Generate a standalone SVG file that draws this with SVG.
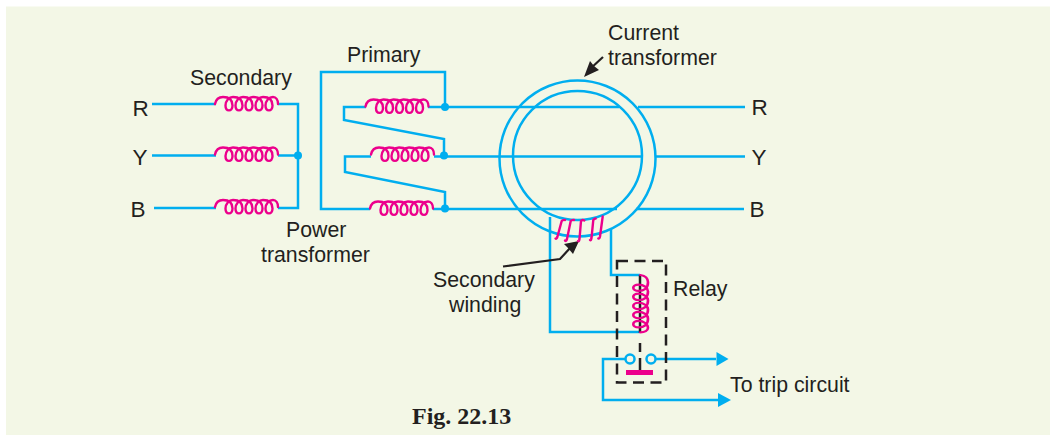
<svg xmlns="http://www.w3.org/2000/svg" width="1050" height="435" viewBox="0 0 1050 435">
<style>
.w{fill:none;stroke:#00AEEF;stroke-width:2.5}
.c{fill:none;stroke:#EC008C;stroke-width:2.4;stroke-linecap:round}
.d{fill:#00AEEF}
.t{font-family:"Liberation Sans",Arial,sans-serif;font-size:21.3px;fill:#231F20}
.l{font-family:"Liberation Sans",Arial,sans-serif;font-size:22.500px;fill:#231F20}
.f{font-family:"Liberation Serif","Times New Roman",serif;font-size:24px;font-weight:bold;fill:#231F20}
.k{fill:none;stroke:#231F20;stroke-width:2.200}
.h{fill:#231F20}
.a{fill:#00AEEF}
</style>
<defs>
<path id="coil" d="M0,7 C1,2 4,0 8,0 C15,0 17.500,4 17.500,8.500 C17.500,15 10.500,15 10.500,8.500 C10.500,4 14,0 18,0 C25,0 27.500,4 27.500,8.500 C27.500,15 20.500,15 20.500,8.500 C20.500,4 24,0 28,0 C35,0 37.500,4 37.500,8.500 C37.500,15 30.500,15 30.500,8.500 C30.500,4 34,0 38,0 C45,0 47.500,4 47.500,8.500 C47.500,15 40.500,15 40.500,8.500 C40.500,4 44,0 48,0 C55,0 57.500,4 57.500,8.500 C57.500,15 50.500,15 50.500,8.500 C50.500,4 54,0 58,0 C61,0 63,3 63,7"/>
</defs>
<rect x="6" y="6.500" width="1044" height="428.500" fill="#F3F7E6"/>
<g id="connectors">
<path class="w" d="M152,104H216M278,104H298V208H278M152,155.500H216M278,155.500H298M154,208H216"/>
<path class="w" d="M366,107H344V120L444,139V155.500M371,156.500H345V172L445,192V209"/>
<path class="w" d="M370,209H321V72H445V107"/>
<path class="w" d="M428,107H619M638,107H745M434,156.500H642M656,156.500H745M433,209H617M636,209H744"/>
<path class="w" d="M550,217V332H640M611,229V275H640"/>
<path class="w" d="M625,359H603V400H718M656,359H716"/>
<polygon class="a" points="728.500,359 716.500,352 716.500,366"/>
<polygon class="a" points="731,400 718,393 718,407"/>
<path class="k" d="M503,266.500L560,259L571,247"/>
<polygon class="h" points="579,241 564,244 568,248 573,254"/>
<path class="k" d="M603,57L590,69"/>
<polygon class="h" points="584,77 590,61 594,66 599,70"/>
</g>
<g id="current-transformer">
<circle class="w" cx="577.500" cy="158.500" r="78"/>
<circle class="w" cx="577.500" cy="155.500" r="64.500"/>
<path class="c" stroke-width="2.600" d="M555.500,238.500Q556.500,239.500 557.500,236.500L561.700,221Q563,219.500 565,220M565,240.500Q566,242 567,239L570.700,221Q572,219.500 574,220M578,241Q579,242 579.500,239L581,221Q582.500,219.500 584.300,220.500M590,240Q591,241 591.500,238L593.300,220Q594.500,218.500 595.700,218.500M598.300,238.500Q599.500,239 600,236.500L602.700,216.500"/>
</g>
<g id="secondary-coils">
<use href="#coil" class="c" x="215" y="97"/>
<use href="#coil" class="c" x="215" y="147.500"/>
<use href="#coil" class="c" x="215" y="200"/>
</g>
<g id="primary-coils">
<use href="#coil" class="c" x="365.500" y="99.500"/>
<use href="#coil" class="c" x="371" y="147.500"/>
<use href="#coil" class="c" x="370" y="201.500"/>
</g>
<g id="junctions">
<circle class="d" cx="298" cy="155.500" r="4"/>
<circle class="d" cx="445" cy="107" r="4"/>
<circle class="d" cx="444" cy="155.500" r="4"/>
<circle class="d" cx="445" cy="208.500" r="4"/>
</g>
<g id="relay">
<rect x="617" y="261" width="49" height="121.500" fill="none" stroke="#231F20" stroke-width="2.500" stroke-dasharray="11 6.500"/>
<path d="M640,275V333M640,343V352M640,358V370" fill="none" stroke="#231F20" stroke-width="2.500"/>
<use href="#coil" class="c" transform="translate(648,275) rotate(90) scale(.91,1.1)"/>
<circle cx="630" cy="359" r="4.500" fill="#F3F7E6" stroke="#00AEEF" stroke-width="2.500"/>
<circle cx="651" cy="359" r="4.500" fill="#F3F7E6" stroke="#00AEEF" stroke-width="2.500"/>
<rect x="626" y="370" width="27" height="5" fill="#EC008C"/>
</g>
<g id="labels">
<text class="l" x="132.500" y="116">R</text>
<text class="l" x="132.500" y="165">Y</text>
<text class="l" x="130.500" y="217">B</text>
<text class="l" x="751.500" y="115">R</text>
<text class="l" x="751.500" y="165">Y</text>
<text class="l" x="749.500" y="217">B</text>
<text class="t" x="190" y="85">Secondary</text>
<text class="t" x="347" y="62">Primary</text>
<text class="t" x="286" y="237">Power</text>
<text class="t" x="261" y="262">transformer</text>
<text class="t" x="608" y="40">Current</text>
<text class="t" x="608" y="65">transformer</text>
<text class="t" x="433" y="287">Secondary</text>
<text class="t" x="449" y="312">winding</text>
<text class="t" x="673" y="296">Relay</text>
<text class="t" x="730" y="392">To trip circuit</text>
<text class="f" x="412" y="424">Fig. 22.13</text>
</g>
</svg>
